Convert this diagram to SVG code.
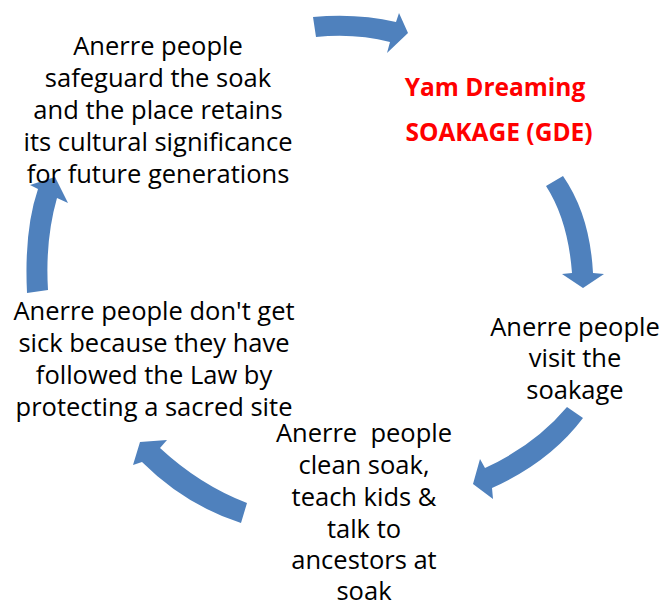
<svg xmlns="http://www.w3.org/2000/svg" width="662" height="606" viewBox="0 0 662 606">
<style>
.arrow{fill:#4F81BD;stroke:none}
.t{font-family:"Open Sans","Noto Sans",sans-serif;font-size:25.5px;fill:#000;text-anchor:middle;white-space:pre}
.r{font-family:"Open Sans","Noto Sans",sans-serif;font-size:24.5px;font-weight:bold;fill:#FF0000;text-anchor:middle}
</style>
<rect width="662" height="606" fill="#fff"/>
<g id="connectors">
<path class="arrow" d="M313,17 Q357,13 396,22 L399,13 L408,33 L387,53 L390,42 Q355,33 316,37 Z"/>
<path class="arrow" d="M563,176 Q590,215 593,273 L604,274 L583,288 L562,274 L572,273 Q568,220 546,186 Z"/>
<path class="arrow" d="M567,407 Q535,445 485,468 L480,459 L473,484 L493,499 L492,488 Q550,462 583,418 Z"/>
<path class="arrow" d="M247,503 Q200,485 160,448 L167,440 L140,442 L133,465 L142,462 Q185,505 241,523 Z"/>
<path class="arrow" d="M27,293 Q24,230 38,189 L30,185 L55,177 L68,203 L57,198 Q45,240 48,290 Z"/>
</g>
<g id="node-soakage">
<text class="r" x="495" y="96">Yam Dreaming</text>
<text class="r" x="499" y="141">SOAKAGE (GDE)</text>
</g>
<g id="node-visit">
<text class="t" x="575" y="335.5">Anerre people</text>
<text class="t" x="575" y="367">visit the</text>
<text class="t" x="575" y="398.5">soakage</text>
</g>
<g id="node-clean">
<text class="t" x="364" y="442">Anerre  people</text>
<text class="t" x="364" y="474">clean soak,</text>
<text class="t" x="364" y="505.5">teach kids &amp;</text>
<text class="t" x="364" y="537.5">talk to</text>
<text class="t" x="364" y="569">ancestors at</text>
<text class="t" x="364" y="600">soak</text>
</g>
<g id="node-sick">
<text class="t" x="154" y="320">Anerre people don't get</text>
<text class="t" x="154" y="352">sick because they have</text>
<text class="t" x="154" y="384">followed the Law by</text>
<text class="t" x="154" y="416">protecting a sacred site</text>
</g>
<g id="node-safeguard">
<text class="t" x="158" y="55">Anerre people</text>
<text class="t" x="158" y="87">safeguard the soak</text>
<text class="t" x="158" y="119">and the place retains</text>
<text class="t" x="158" y="151">its cultural significance</text>
<text class="t" x="158" y="183">for future generations</text>
</g>
</svg>
